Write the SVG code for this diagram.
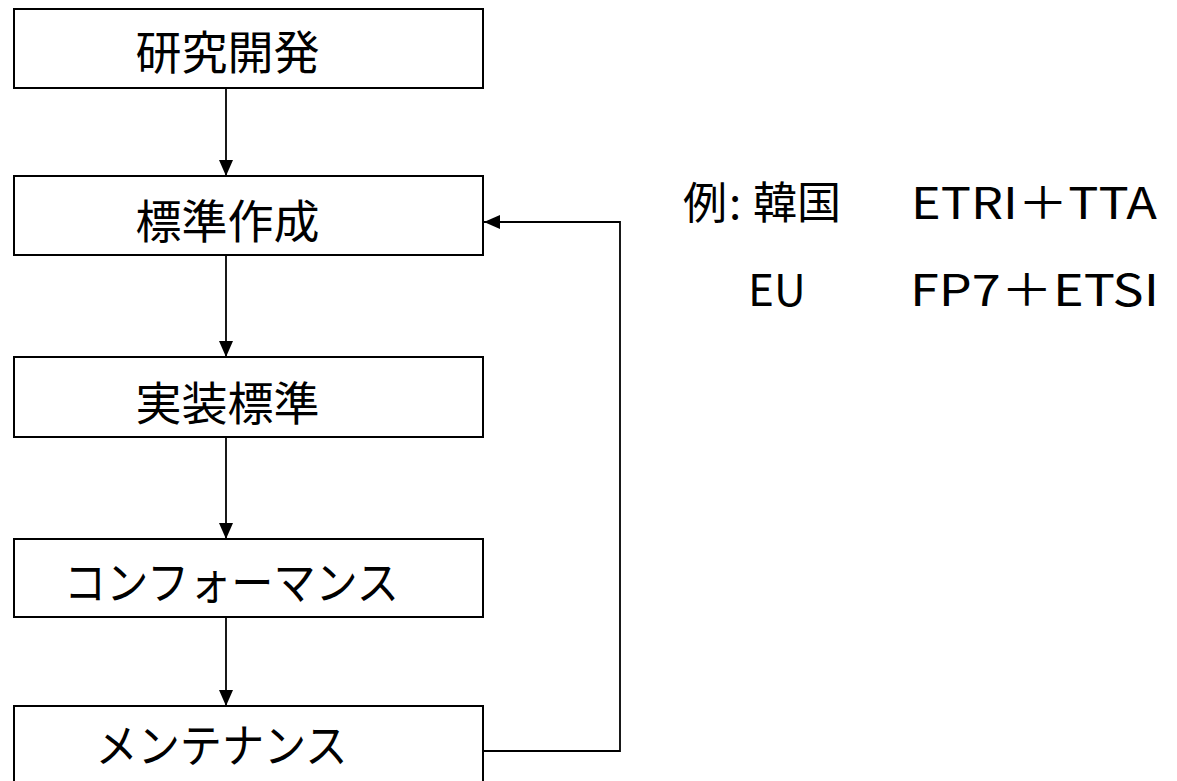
<svg xmlns="http://www.w3.org/2000/svg" width="1177" height="781" viewBox="0 0 1177 781">
<style>
.box{fill:#fff;stroke:#000;stroke-width:2}
.lbl{font-family:"Noto Sans CJK JP","Noto Sans",sans-serif;font-size:46px;fill:#000;text-anchor:middle}
.note{font-family:"Noto Sans CJK JP","Noto Sans",sans-serif;font-size:44px;fill:#000}
.conn{fill:none;stroke:#000;stroke-width:1.8}
</style>
<defs>
<marker id="ah" markerUnits="userSpaceOnUse" markerWidth="16" markerHeight="16" viewBox="0 0 16 16" refX="16" refY="8" orient="auto">
<path d="M0,1 L16,8 L0,15 Z" fill="#000"/>
</marker>
</defs>
<rect width="1177" height="781" fill="#fff"/>
<g id="n1"><rect class="box" x="14" y="9" width="469" height="79"/><text class="lbl" x="227.5" y="69">研究開発</text></g>
<g id="n2"><rect class="box" x="14" y="176" width="469" height="79"/><text class="lbl" x="227.5" y="238">標準作成</text></g>
<g id="n3"><rect class="box" x="14" y="357" width="469" height="80"/><text class="lbl" x="227.5" y="420">実装標準</text></g>
<g id="n4"><rect class="box" x="14" y="539" width="469" height="78"/><text class="lbl" x="231.5" y="599" textLength="335" lengthAdjust="spacingAndGlyphs">コンフォーマンス</text></g>
<g id="n5"><rect class="box" x="14" y="706" width="469" height="100"/><text class="lbl" x="221.5" y="762" textLength="252" lengthAdjust="spacingAndGlyphs">メンテナンス</text></g>
<g id="connectors">
<line class="conn" x1="226" y1="88" x2="226" y2="176" marker-end="url(#ah)"/>
<line class="conn" x1="226" y1="255" x2="226" y2="357" marker-end="url(#ah)"/>
<line class="conn" x1="226" y1="437" x2="226" y2="539" marker-end="url(#ah)"/>
<line class="conn" x1="226" y1="617" x2="226" y2="706" marker-end="url(#ah)"/>
<path class="conn" d="M483,751 L620,751 L620,222 L484,222" marker-end="url(#ah)"/>
</g>
<g id="notes">
<text class="note" x="683" y="219">例<tspan x="729">:</tspan><tspan x="753">韓国</tspan></text>
<text class="note" x="911" y="219" textLength="246" lengthAdjust="spacingAndGlyphs">ETRI＋TTA</text>
<text class="note" x="748" y="306">EU</text>
<text class="note" x="910" y="306" textLength="249" lengthAdjust="spacingAndGlyphs">FP7＋ETSI</text>
</g>
</svg>
